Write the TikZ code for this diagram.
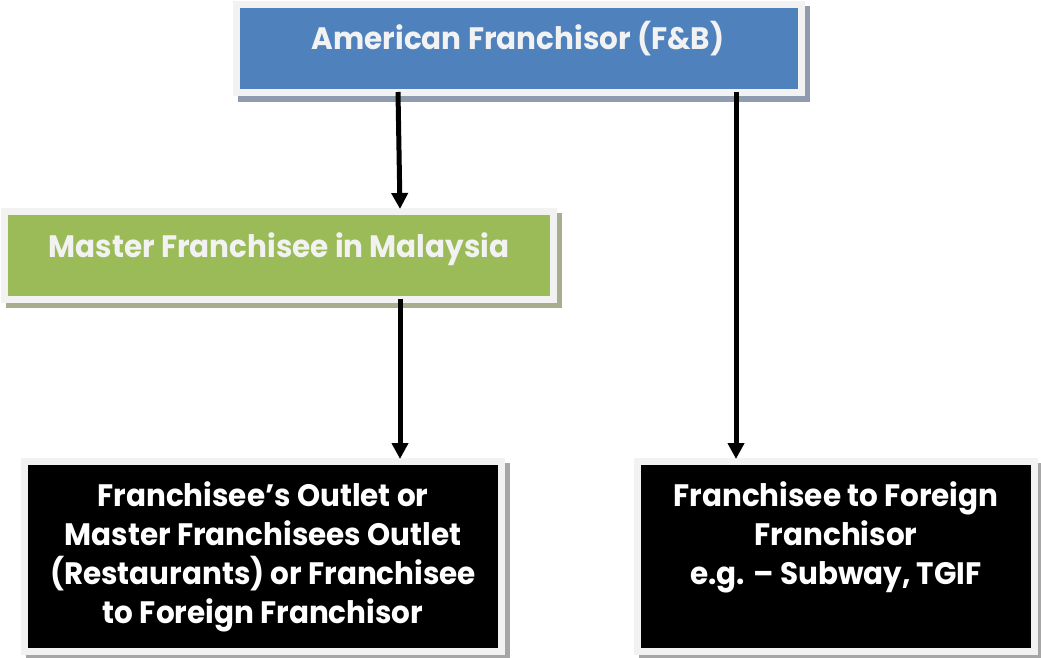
\documentclass[tikz,border=0pt]{standalone}
\usepackage{fontspec}
\setmainfont{Poppins}[FakeStretch=0.95]
\usetikzlibrary{arrows.meta,calc}
\definecolor{bluefill}{HTML}{4F81BD}
\definecolor{greenfill}{HTML}{9BBB59}
\definecolor{framec}{HTML}{F2F2F2}
\definecolor{blueshadow}{HTML}{8F9BAE}
\definecolor{greenshadow}{HTML}{A6AE8E}
\definecolor{grayshadow}{HTML}{A6A6A6}
\begin{document}
\begin{tikzpicture}[x=1pt,y=-1pt,
  box/.style={draw=framec, line width=7pt, inner sep=0pt, minimum width=#1},
  lbl/.style={font=\bfseries\fontsize{31}{39}\selectfont, align=center, inner sep=0pt},
  arr/.style={line width=5pt, -{Triangle[width=16pt,length=16pt]}}
]
\useasboundingbox (0,0) rectangle (1041,658);
% shadows
\fill[blueshadow] (238,6) rectangle (810,102);
\fill[greenshadow] (6,213) rectangle (562,308);
\fill[grayshadow] (26,463) rectangle (510,660);
\fill[grayshadow] (639,463) rectangle (1043,660);
% boxes
\node[box=565pt, minimum height=88pt, fill=bluefill] (blue) at (519,48.5) {};
\node[box=549pt, minimum height=88pt, fill=greenfill] (green) at (279,255.5) {};
\node[box=477pt, minimum height=190pt, fill=black] (left) at (263,556.5) {};
\node[box=397pt, minimum height=190pt, fill=black] (right) at (836,556.5) {};
% labels
\node[lbl, text=framec, anchor=base] (bluet) at (518,50) {American Franchisor (F\&B)};
\node[lbl, text=framec, anchor=base] (greent) at (279,257) {Master Franchisee in Malaysia};
\node[lbl, text=white, anchor=north] (leftt) at (263,481) {Franchisee’s Outlet or\\Master Franchisees Outlet\\(Restaurants) or Franchisee\\to Foreign Franchisor};
\node[lbl, text=white, anchor=north] (rightt) at (836,481) {Franchisee to Foreign\\Franchisor\\e.g. – Subway, TGIF};
% arrows
\coordinate (xa) at (398,0);
\coordinate (xb) at (400,0);
\coordinate (xc) at (736,0);
\draw[arr] ($(blue.south -| xa)+(0,-4)$) -- ($(green.north -| xb)+(0,1)$);
\draw[arr] ($(green.south -| xb)+(0,-4)$) -- ($(left.north -| xb)+(0,1)$);
\draw[arr] ($(blue.south -| xc)+(0,-4)$) -- ($(right.north -| xc)+(0,1)$);
\end{tikzpicture}
\end{document}
